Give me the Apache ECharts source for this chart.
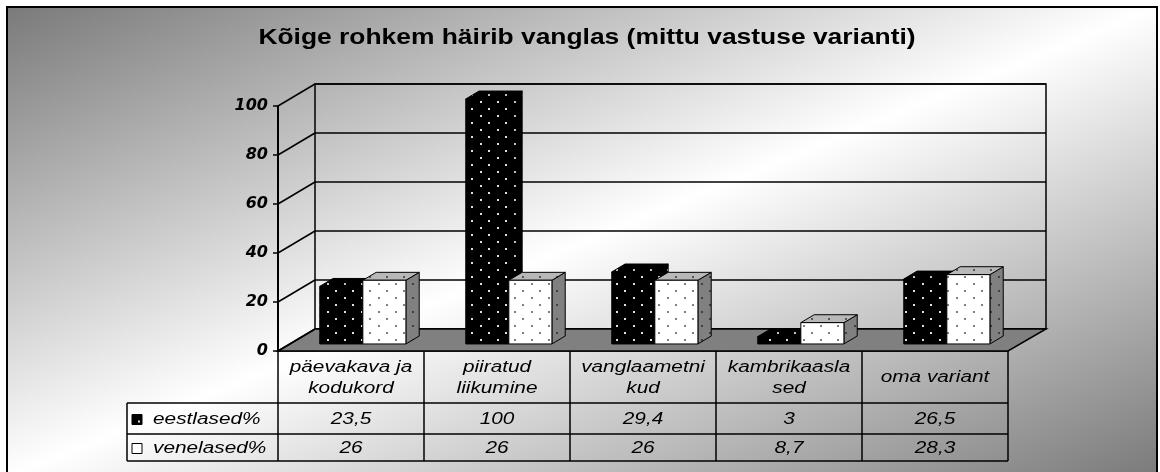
<!DOCTYPE html>
<html>
<head>
<meta charset="utf-8">
<script src="https://cdn.jsdelivr.net/npm/echarts@6.0.0/dist/echarts.min.js"></script>
<style>
    html, body { margin: 0; padding: 0; background: #fff; }
    #main { width: 1160px; height: 472px; }
</style>
</head>
<body>
<div id="main"></div>
<script>
var titleText = 'Kõige rohkem häirib vanglas (mittu vastuse varianti)';
var categories = ['päevakava ja\nkodukord', 'piiratud\nliikumine', 'vanglaametni\nkud', 'kambrikaasla\nsed', 'oma variant'];
var seriesNames = ['eestlased%', 'venelased%'];
var eestlased = [23.5, 100, 29.4, 3, 26.5];
var venelased = [26, 26, 26, 8.7, 28.3];
var yTicks = [0, 20, 40, 60, 80, 100];

// 3d look: shift from the front plane to the back wall
var DEPTH_X = 37, DEPTH_Y = -22;
var BAR_FRONT = 0.32, BAR_DEPTH = 0.36, BAR_FRAC = 0.295;
var TEXT_SCALE = 1.3;
var CELL_FONT = 'italic 16px "Liberation Sans"';

var dots = function (bg, dot) {
    var c = document.createElement('canvas');
    c.width = 17; c.height = 14;
    var g = c.getContext('2d');
    g.fillStyle = bg; g.fillRect(0, 0, 17, 14);
    g.fillStyle = dot;
    g.fillRect(4, 3, 2, 2);
    g.fillRect(12, 10, 2, 2);
    return { image: c, repeat: 'repeat' };
};
var faces = [
    { front: dots('#000', '#e0e0e0'), top: dots('#000', '#c0c0c0'), side: dots('#000', '#c0c0c0') },
    { front: dots('#fff', '#808080'), top: dots('#b8b8b8', '#555'), side: dots('#808080', '#404040') }
];

var barRenderer = function (k) {
    return function (params, api) {
        var top = api.coord([api.value(0), api.value(1)]);
        var base = api.coord([api.value(0), 0]);
        var w = api.size([1, 0])[0] * BAR_FRAC;
        var dx = DEPTH_X * BAR_DEPTH, dy = DEPTH_Y * BAR_DEPTH;
        var x0 = top[0] + DEPTH_X * BAR_FRONT - (k === 0 ? w : 0);
        var x1 = x0 + w;
        var yt = top[1] + DEPTH_Y * BAR_FRONT;
        var yb = base[1] + DEPTH_Y * BAR_FRONT;
        var line = { stroke: '#000', lineWidth: 1 };
        return {
            type: 'group',
            children: [
                { type: 'polygon', shape: { points: [[x1, yt], [x1 + dx, yt + dy], [x1 + dx, yb + dy], [x1, yb]] }, style: Object.assign({ fill: faces[k].side }, line) },
                { type: 'polygon', shape: { points: [[x0, yt], [x1, yt], [x1 + dx, yt + dy], [x0 + dx, yt + dy]] }, style: Object.assign({ fill: faces[k].top }, line) },
                { type: 'rect', shape: { x: x0, y: yt, width: w, height: yb - yt }, style: Object.assign({ fill: faces[k].front }, line) }
            ]
        };
    };
};

var option = {
    animation: false,
    grid: [
        { left: 278, right: 152, top: 106, bottom: 121 },
        { left: 315, right: 114, top: 84, bottom: 143, show: true, borderColor: '#000', borderWidth: 1.5, backgroundColor: 'transparent' }
    ],
    xAxis: [
        { type: 'category', gridIndex: 0, data: categories, axisLabel: { show: false }, axisTick: { show: false }, axisLine: { lineStyle: { color: '#000', width: 1.5 } } },
        { type: 'category', gridIndex: 1, data: categories, show: false }
    ],
    yAxis: [
        {
            type: 'value', gridIndex: 0, min: 0, max: 100, interval: 20,
            axisLine: { show: true, lineStyle: { color: '#000', width: 2 } },
            axisTick: { show: true, length: 5, lineStyle: { color: '#000', width: 1.5 } },
            axisLabel: { color: '#000', fontFamily: 'DejaVu Sans', fontWeight: 'bold', fontStyle: 'italic', fontSize: 16, margin: 10 },
            splitLine: { show: false }
        },
        {
            type: 'value', gridIndex: 1, min: 0, max: 100, interval: 20,
            axisLine: { show: false }, axisTick: { show: false }, axisLabel: { show: false },
            splitLine: { show: true, lineStyle: { color: '#000', width: 1.5 } }
        }
    ],
    series: [
        { name: seriesNames[0], type: 'custom', xAxisIndex: 0, yAxisIndex: 0, z: 3, renderItem: barRenderer(0), encode: { x: 0, y: 1 }, data: eestlased.map(function (v, i) { return [i, v]; }) },
        { name: seriesNames[1], type: 'custom', xAxisIndex: 0, yAxisIndex: 0, z: 4, renderItem: barRenderer(1), encode: { x: 0, y: 1 }, data: venelased.map(function (v, i) { return [i, v]; }) }
    ]
};

var myChart = echarts.init(document.getElementById('main'));
myChart.setOption(option);

// frame, floor, side wall and data table are placed from the axes
var front = function (c, v) { return myChart.convertToPixel({ gridIndex: 0 }, [c, v]); };
var back = function (c, v) { return myChart.convertToPixel({ gridIndex: 1 }, [c, v]); };
var band = front(1, 0)[0] - front(0, 0)[0];
var bandB = back(1, 0)[0] - back(0, 0)[0];
var left = front(0, 0)[0] - band / 2;
var right = front(categories.length - 1, 0)[0] + band / 2;
var y0 = front(0, 0)[1];
var bl = back(0, 0)[0] - bandB / 2;
var br = back(categories.length - 1, 0)[0] + bandB / 2;
var yb0 = back(0, 0)[1];

var fx = 7, fy = 7, fw = 1150, fh = 470;
var cx = fx + fw / 2, cy = fy + fh / 2;
var len = Math.sqrt(fw * fw + fh * fh);
var half = fw * fh / len;
var ux = fh / len, uy = fw / len;

var graphics = [];
graphics.push({
    type: 'rect', z: -10, silent: true,
    shape: { x: fx, y: fy, width: fw, height: fh },
    style: {
        fill: new echarts.graphic.LinearGradient(cx - ux * half, cy - uy * half, cx + ux * half, cy + uy * half, [
            { offset: 0, color: '#7a7a7a' },
            { offset: 0.5, color: '#ffffff' },
            { offset: 1, color: '#7a7a7a' }
        ], true),
        stroke: '#000', lineWidth: 2
    }
});
graphics.push({
    type: 'text', z: 1, x: (fx + fw / 2) + 5, y: 38, scaleX: 1.2,
    style: { text: titleText, fontFamily: 'Liberation Sans', fontWeight: 'bold', fontSize: 22, fill: '#000', align: 'center', verticalAlign: 'middle' }
});
graphics.push({
    type: 'polygon', z: 1,
    shape: { points: [[left, y0], [right, y0], [br, yb0], [bl, yb0]] },
    style: { fill: '#808080', stroke: '#000', lineWidth: 1.5 }
});
yTicks.forEach(function (v) {
    graphics.push({
        type: 'line', z: 1,
        shape: { x1: left, y1: front(0, v)[1], x2: bl, y2: back(0, v)[1] },
        style: { stroke: '#000', lineWidth: 1.5 }
    });
});

var headBottom = y0 + 52, row1Bottom = headBottom + 31, row2Bottom = row1Bottom + 27;
var legendLeft = left - 151;
var tableLine = { stroke: '#000', lineWidth: 1.5 };
[headBottom, row1Bottom, row2Bottom].forEach(function (y) {
    graphics.push({ type: 'line', z: 1, shape: { x1: legendLeft, y1: y, x2: right, y2: y }, style: tableLine });
});
graphics.push({ type: 'line', z: 1, shape: { x1: legendLeft, y1: headBottom, x2: legendLeft, y2: row2Bottom }, style: tableLine });
for (var i = 0; i <= categories.length; i++) {
    var x = left + i * band;
    graphics.push({ type: 'line', z: 1, shape: { x1: x, y1: y0, x2: x, y2: row2Bottom }, style: tableLine });
}

// centred cell text is placed by its measured width, left aligned
var measure = document.createElement('canvas').getContext('2d');
measure.font = CELL_FONT;
var cellText = function (text, x, y, align) {
    var w = measure.measureText(text).width * TEXT_SCALE;
    var left0 = align === 'left' ? x : x - w / 2;
    return {
        type: 'text', z: 1, x: left0, y: y, scaleX: TEXT_SCALE,
        style: { text: text, font: CELL_FONT, fill: '#000', align: 'left', verticalAlign: 'middle' }
    };
};
var fmt = function (v) { return String(v).replace('.', ','); };
var rowsY = [(headBottom + row1Bottom) / 2 + 1, (row1Bottom + row2Bottom) / 2 + 1];
categories.forEach(function (name, i) {
    var x = front(i, 0)[0];
    var lines = name.split('\n');
    var mid = (y0 + headBottom) / 2 + 1;
    lines.forEach(function (t, j) {
        graphics.push(cellText(t, x, mid + (j - (lines.length - 1) / 2) * 21));
    });
    graphics.push(cellText(fmt(eestlased[i]), x, rowsY[0]));
    graphics.push(cellText(fmt(venelased[i]), x, rowsY[1]));
});
seriesNames.forEach(function (name, k) {
    graphics.push({
        type: 'rect', z: 1,
        shape: { x: legendLeft + 5, y: rowsY[k] - 5, width: 10, height: 10 },
        style: { fill: k === 0 ? '#000' : '#fff', stroke: '#000', lineWidth: 1 }
    });
    if (k === 0)
        graphics.push({ type: 'rect', z: 1, shape: { x: legendLeft + 11, y: rowsY[k] + 1, width: 2, height: 2 }, style: { fill: '#ddd' } });
    graphics.push(cellText(name, legendLeft + 26, rowsY[k], 'left'));
});

myChart.setOption({ graphic: graphics });
</script>
</body>
</html>
